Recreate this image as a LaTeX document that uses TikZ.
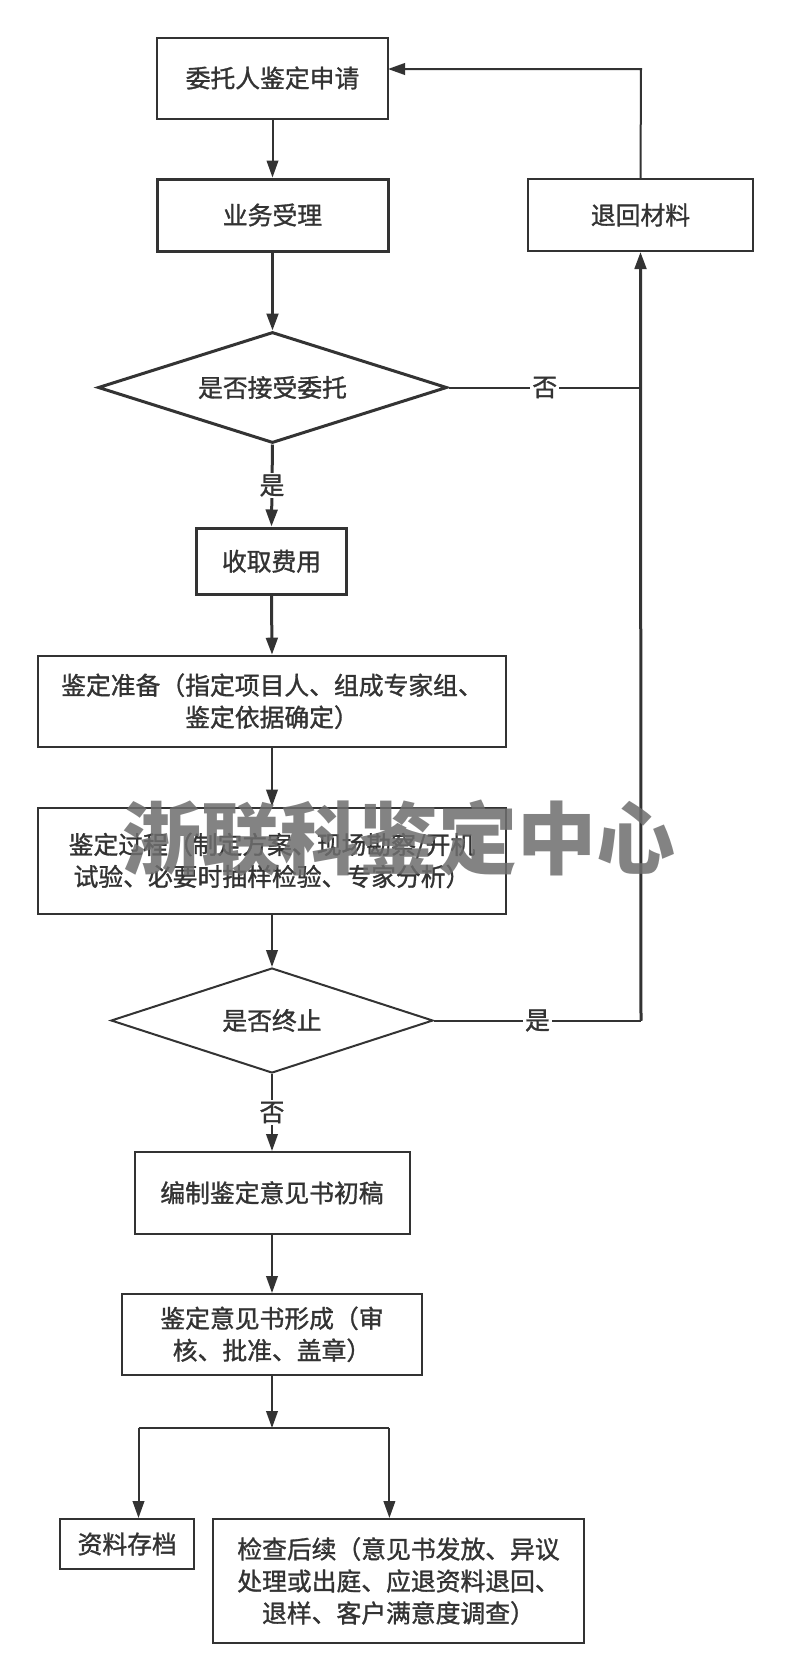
\documentclass[tikz,border=0pt]{standalone}
\usepackage{fontspec}
\newfontfamily\cjk[FakeBold=1.2]{Noto Sans CJK SC}
\newfontfamily\cjkwm{Noto Sans CJK SC}
\usetikzlibrary{arrows.meta,shapes.geometric}
\definecolor{ink}{HTML}{333333}
\definecolor{wmgray}{HTML}{6E6E6E}
\tikzset{
  px/.style={x=0.5pt,y=-0.5pt},
  txt/.style={font=\cjk\fontsize{12.4}{16}\selectfont, text=ink, align=center},
  box/.style={txt, draw=ink, line width=1pt, rectangle, inner sep=0pt},
  thickbox/.style={box, line width=1.5pt},
  dia/.style={txt, draw=ink, diamond, inner sep=0pt, aspect=3},
  conn/.style={draw=ink, line width=1pt, -{Triangle[length=8.5pt,width=5.8pt]}},
  line/.style={draw=ink, line width=1pt},
  lbl/.style={txt, fill=white, inner sep=1pt},
  wm/.style={font=\cjkwm\bfseries\fontsize{39.5}{40}\selectfont, text=wmgray, text opacity=0.85, inner sep=0pt}
}
\begin{document}
\begin{tikzpicture}[px]
\fill[white] (0,0) rectangle (790,1678);
\useasboundingbox (0,0) rectangle (790,1678);

% nodes
\node[box, minimum width=115.5pt, minimum height=40.5pt] (b1) at (272.5,78) {委托人鉴定申请};
\node[thickbox, minimum width=115.5pt, minimum height=36pt] (b2) at (272.5,215) {业务受理};
\node[box, minimum width=112.5pt, minimum height=36pt] (back) at (640.5,215) {退回材料};
\node[dia, line width=1.5pt, minimum width=174.5pt, minimum height=55.5pt] (d1) at (272.5,387.5) {是否接受委托};
\node[thickbox, minimum width=75pt, minimum height=33.3pt] (fee) at (271.5,561.3) {收取费用};
\node[box, minimum width=234pt, minimum height=45.5pt] (prep) at (272,701.2) {鉴定准备（指定项目人、组成专家组、\\鉴定依据确定）};
\node[box, minimum width=234pt, minimum height=53pt] (proc) at (272,860.5) {鉴定过程（制定方案、现场勘察/开机\\试验、必要时抽样检验、专家分析）};
\node[dia, line width=1pt, minimum width=161pt, minimum height=52.5pt] (d2) at (272,1020.5) {是否终止};
\node[box, minimum width=137.5pt, minimum height=40.8pt] (draft) at (272,1192.8) {编制鉴定意见书初稿};
\node[box, minimum width=150pt, minimum height=40.3pt] (form) at (272,1334.3) {鉴定意见书形成（审\\核、批准、盖章）};
\node[box, minimum width=66.8pt, minimum height=25pt] (arch) at (127.2,1544) {资料存档};
\node[box, minimum width=185.5pt, minimum height=62pt] (follow) at (398.5,1581) {检查后续（意见书发放、异议\\处理或出庭、应退资料退回、\\退样、客户满意度调查）};

% coordinates
\coordinate (j1) at (641,387.5);
\coordinate (j2) at (641,1020.5);
\coordinate (top) at (641,69);
\coordinate (b1in) at (388,69);
\coordinate (split) at (272,1428);
\coordinate (sl) at (138.5,1428);
\coordinate (sr) at (389.4,1428);

% connectors
\draw[conn] (b1.south) -- (b2.north);
\draw[conn, line width=1.5pt] (b2.south) -- (d1.north);
\draw[conn, line width=1.5pt] (d1.south) -- node[lbl] {是} (fee.north);
\draw[line] (d1.east) -- node[lbl] {否} (j1);
\draw[conn, line width=1.5pt] (j2) -- (back.south);
\draw[line] (j2) -- (j1);
\draw[conn] (back.north) -- (top) -- (b1in);
\draw[conn, line width=1.5pt] (fee.south) -- (prep.north);
\draw[conn] (prep.south) -- (proc.north);
\draw[conn] (proc.south) -- (d2.north);
\draw[line] (d2.east) -- node[lbl] {是} (j2);
\draw[conn] (d2.south) -- node[lbl] {否} (draft.north);
\draw[conn] (draft.south) -- (form.north);
\draw[conn] (form.south) -- (split);
\draw[line] (sl) -- (sr);
\draw[conn] (sl) -- (sl |- arch.north);
\draw[conn] (sr) -- (sr |- follow.north);

% watermark
\node[wm] (wmark) at (399,838) {浙联科鉴定中心};
\end{tikzpicture}
\end{document}
